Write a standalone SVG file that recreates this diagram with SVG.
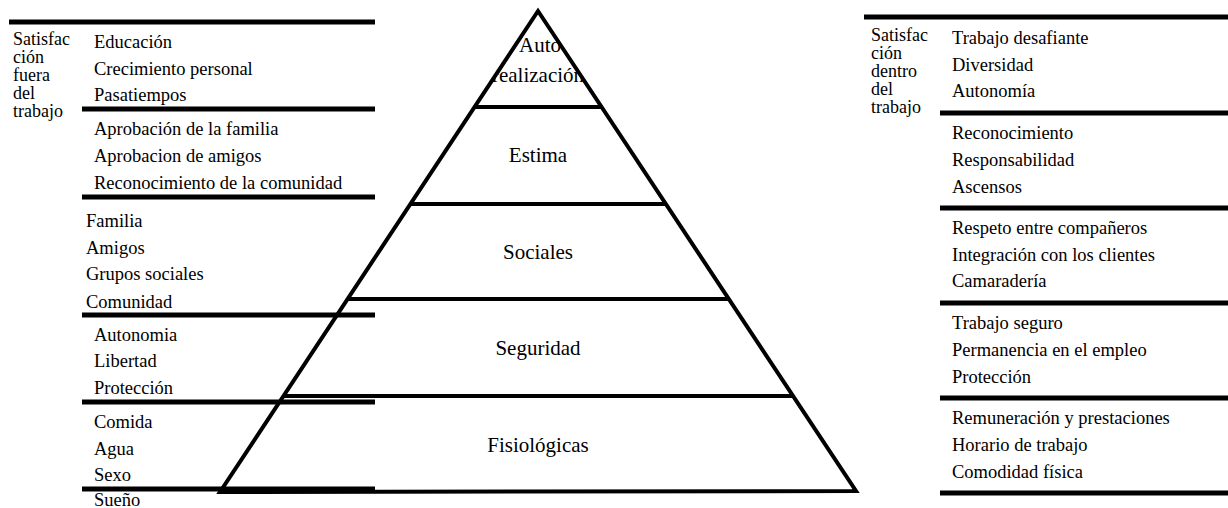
<svg xmlns="http://www.w3.org/2000/svg" width="1228" height="508" viewBox="0 0 1228 508">
<style>
.t{font-family:"Liberation Serif","Times New Roman",serif;font-size:18.5px;fill:#000}
.s{font-family:"Liberation Serif","Times New Roman",serif;font-size:18px;fill:#000}
.p{font-family:"Liberation Serif","Times New Roman",serif;font-size:21px;fill:#000;text-anchor:middle}
.h{stroke:#000;stroke-width:5;fill:none}
.py{stroke:#000;stroke-width:4;fill:none;stroke-linejoin:miter}
</style>
<defs>
<clipPath id="topclip"><polygon points="538,12 598,105 478,105"/></clipPath>
</defs>
<rect width="1228" height="508" fill="#fff"/>
<g id="left-column">
<text class="s" x="13" y="45">Satisfac</text>
<text class="s" x="13" y="63">ción</text>
<text class="s" x="13" y="81">fuera</text>
<text class="s" x="13" y="99">del</text>
<text class="s" x="13" y="117">trabajo</text>
</g>
<g id="left-autorealizacion">
<text class="t" x="94" y="48">Educación</text>
<text class="t" x="94" y="75">Crecimiento personal</text>
<text class="t" x="94" y="101">Pasatiempos</text>
</g>
<g id="left-estima">
<text class="t" x="94" y="135">Aprobación de la familia</text>
<text class="t" x="94" y="162">Aprobacion de amigos</text>
<text class="t" x="94" y="189">Reconocimiento  de la comunidad</text>
</g>
<g id="left-sociales">
<text class="t" x="86" y="227">Familia</text>
<text class="t" x="86" y="254">Amigos</text>
<text class="t" x="86" y="280">Grupos sociales</text>
<text class="t" x="86" y="308">Comunidad</text>
</g>
<g id="left-seguridad">
<text class="t" x="94" y="341">Autonomia</text>
<text class="t" x="94" y="367">Libertad</text>
<text class="t" x="94" y="394">Protección</text>
</g>
<g id="left-fisiologicas">
<text class="t" x="94" y="428">Comida</text>
<text class="t" x="94" y="455">Agua</text>
<text class="t" x="94" y="481">Sexo</text>
<text class="t" x="94" y="506">Sueño</text>
</g>
<g id="right-column">
<text class="s" x="871" y="41">Satisfac</text>
<text class="s" x="871" y="59">ción</text>
<text class="s" x="871" y="77">dentro</text>
<text class="s" x="871" y="95">del</text>
<text class="s" x="871" y="113">trabajo</text>
</g>
<g id="right-autorealizacion">
<text class="t" x="952" y="44">Trabajo desafiante</text>
<text class="t" x="952" y="71">Diversidad</text>
<text class="t" x="952" y="97">Autonomía</text>
</g>
<g id="right-estima">
<text class="t" x="952" y="139">Reconocimiento</text>
<text class="t" x="952" y="166">Responsabilidad</text>
<text class="t" x="952" y="193">Ascensos</text>
</g>
<g id="right-sociales">
<text class="t" x="952" y="234">Respeto entre compañeros</text>
<text class="t" x="952" y="261">Integración con los clientes</text>
<text class="t" x="952" y="287">Camaradería</text>
</g>
<g id="right-seguridad">
<text class="t" x="952" y="329">Trabajo seguro</text>
<text class="t" x="952" y="356">Permanencia en el empleo</text>
<text class="t" x="952" y="383">Protección</text>
</g>
<g id="right-fisiologicas">
<text class="t" x="952" y="424">Remuneración y prestaciones</text>
<text class="t" x="952" y="451">Horario de trabajo</text>
<text class="t" x="952" y="478">Comodidad física</text>
</g>
<g id="pyramid-labels">
<g clip-path="url(#topclip)">
<text class="p" x="540" y="52">Auto</text>
<text class="p" x="538" y="82">realización</text>
</g>
<text class="p" x="538" y="162">Estima</text>
<text class="p" x="538" y="259">Sociales</text>
<text class="p" x="538" y="355">Seguridad</text>
<text class="p" x="538" y="452">Fisiológicas</text>
</g>
<g id="connectors">
<line class="h" x1="9" y1="22" x2="375" y2="22"/>
<line class="h" x1="82" y1="109" x2="375" y2="109"/>
<line class="h" x1="82" y1="197" x2="375" y2="197"/>
<line class="h" x1="82" y1="315" x2="375" y2="315"/>
<line class="h" x1="82" y1="402" x2="375" y2="402"/>
<line class="h" x1="82" y1="489" x2="375" y2="489"/>
<line class="h" x1="864" y1="17" x2="1228" y2="17"/>
<line class="h" x1="940" y1="113" x2="1228" y2="113"/>
<line class="h" x1="940" y1="208" x2="1228" y2="208"/>
<line class="h" x1="940" y1="303" x2="1228" y2="303"/>
<line class="h" x1="940" y1="398" x2="1228" y2="398"/>
<line class="h" x1="940" y1="493" x2="1228" y2="493"/>
</g>
<g id="pyramid">
<polygon class="py" points="538,11 856,491 220,492"/>
<line class="py" x1="475" y1="107" x2="601" y2="107"/>
<line class="py" x1="411" y1="204" x2="665" y2="204"/>
<line class="py" x1="349" y1="299" x2="728" y2="299"/>
<line class="py" x1="284" y1="396" x2="792" y2="396"/>
</g>
</svg>
